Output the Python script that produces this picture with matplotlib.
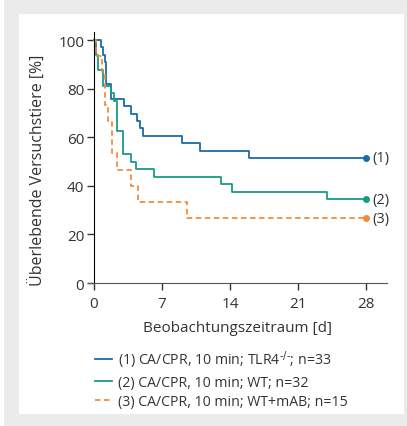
import matplotlib.pyplot as plt
from matplotlib.patches import Rectangle

plt.rcParams['font.family'] = ['Open Sans', 'DejaVu Sans']

# Kaplan-Meier Daten (Tage, Überleben in %)
t_tlr4 = [0, 0.75, 0.95, 1.1, 1.27, 1.78, 3.05, 3.8, 4.45, 4.75, 5.0, 9.05, 10.9, 15.95]
s_tlr4 = [100, 97.0, 93.9, 90.9, 81.8, 75.8, 72.7, 69.7, 66.7, 63.6, 60.6, 57.6, 54.5, 51.5]

t_wt = [0, 0.2, 0.4, 0.9, 1.75, 2.1, 2.33, 3.0, 3.84, 4.36, 6.13, 13.07, 14.24, 23.95]
s_wt = [100, 93.75, 87.5, 81.25, 78.1, 75.0, 62.5, 53.1, 50.0, 46.9, 43.75, 40.6, 37.5, 34.4]

t_mab = [0, 0.25, 0.8, 1.15, 1.45, 1.8, 2.35, 3.85, 4.5, 9.55]
s_mab = [100, 93.3, 86.7, 73.3, 66.7, 53.3, 46.7, 40.0, 33.3, 26.7]

ende = 28
labels = [r"(1) CA/CPR, 10 min; TLR4$^{\text{-/-}}$; n=33",
          "(2) CA/CPR, 10 min; WT; n=32",
          "(3) CA/CPR, 10 min; WT+mAB; n=15"]
kurz = ["(1)", "(2)", "(3)"]
farben = ["#1b6ca8", "#179c88", "#f48b3a"]
stile = ["-", "-", "--"]

fig = plt.figure(figsize=(4.07, 4.27), dpi=100)
fig.patch.set_facecolor("#ebebeb")
fig.patches.append(Rectangle((19 / 407, 12 / 427), 385 / 407, 400 / 427,
                             transform=fig.transFigure, facecolor="white",
                             edgecolor="none", zorder=-10))
fig.patches.append(Rectangle((0, 0), 4 / 407, 1, transform=fig.transFigure,
                             facecolor="white", edgecolor="none", zorder=-10))

ax = fig.add_axes([88 / 407, (427 - 284) / 427, 299 / 407, 251 / 427])
ax.set_facecolor("none")

for t, s, c, ls, lab, k in zip([t_tlr4, t_wt, t_mab], [s_tlr4, s_wt, s_mab],
                               farben, stile, labels, kurz):
    if ls == "--":
        ax.step(t + [ende], s + [s[-1]], where="post", color=c, lw=1.3,
                label=lab, dashes=(3, 2))
    else:
        ax.step(t + [ende], s + [s[-1]], where="post", color=c, lw=1.3, label=lab)
    ax.plot([ende], [s[-1]], "o", color=c, ms=4)
    ax.text(ende + 0.7, s[-1], k, va="center", ha="left", fontsize=10.5, color="#333333")

ax.set_xlim(-0.62, 30.16)
ax.set_ylim(0, 103.3)
ax.set_xticks([0, 7, 14, 21, 28])
ax.set_yticks([0, 20, 40, 60, 80, 100])
ax.spines["left"].set_position(("data", 0))
ax.spines["top"].set_visible(False)
ax.spines["right"].set_visible(False)
ax.spines["left"].set_color("black")
ax.spines["bottom"].set_color("#555555")
ax.tick_params(colors="#333333", labelsize=11, length=5, width=1)
ax.tick_params(axis="x", pad=4)
ax.tick_params(axis="y", pad=2)
ax.set_xlabel("Beobachtungszeitraum [d]", fontsize=11, color="#333333", labelpad=7)
fig.text(38 / 407, 1 - 170 / 427, "Überlebende Versuchstiere [%]", rotation=90,
         ha="center", va="center", fontsize=11.5, color="#333333")

fig.legend(loc="upper left", bbox_to_anchor=(82 / 407, 1 - 337 / 427), frameon=False,
           fontsize=10.2, handlelength=1.2, handletextpad=0.45, labelspacing=0.3,
           labelcolor="#333333")

fig.savefig("out.png", dpi=100, facecolor=fig.get_facecolor())
